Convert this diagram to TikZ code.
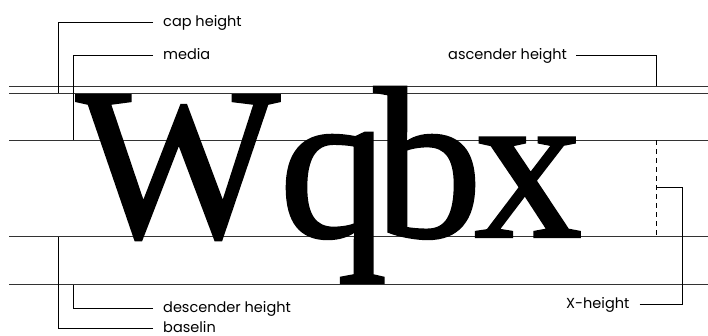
\documentclass[tikz,border=0pt]{standalone}
\usepackage{fontspec}
\setmainfont{Liberation Serif}
\newfontfamily\labelfont{Poppins}
\newfontfamily\glyphfont[FakeBold=1.2]{Liberation Serif}
\usetikzlibrary{positioning}

\begin{document}
\begin{tikzpicture}[
  x=1pt,y=-1pt,
  guide/.style={draw=black!80,line width=1.1pt},
  leader/.style={draw=black,line width=0.9pt},
  lbl/.style={font=\labelfont\fontsize{14.5}{16}\selectfont,inner sep=0pt,anchor=base west},
  glyph/.style={font=\glyphfont\fontsize{216}{216}\selectfont,inner sep=0pt,anchor=base west}
]
\useasboundingbox (0,0) rectangle (708,336);
% guide lines
\coordinate (asc-l) at (9,86.5);   \coordinate (asc-r) at (708,86.5);
\coordinate (cap-l) at (9,93.3);   \coordinate (cap-r) at (708,93.3);
\coordinate (med-l) at (9,140.5);  \coordinate (med-r) at (708,140.5);
\coordinate (base-l) at (9,236.8); \coordinate (base-r) at (708,236.8);
\coordinate (desc-l) at (9,284.5); \coordinate (desc-r) at (708,284.5);
\draw[guide] (asc-l) -- (asc-r);
\draw[guide] (cap-l) -- (cap-r);
\draw[guide] (med-l) -- (med-r);
\draw[guide] (base-l) -- (base-r);
\draw[guide] (desc-l) -- (desc-r);
% letters
\node[glyph] (W) at (76,236.8) {W};
\node[glyph] (q) at (279,236.8) {q};
\node[glyph] (b) at (374,236.8) {b};
\node[glyph] (x) at (474,236.8) {x};
% labels
\node[lbl] (caplbl) at (163,27) {cap height};
\node[lbl] (medlbl) at (163,59.5) {media};
\node[lbl] (asclbl) at (448,60) {ascender height};
\node[lbl] (xlbl) at (566,308.5) {X-height};
\node[lbl] (desclbl) at (163,312.3) {descender height};
\node[lbl] (baselbl) at (163,332) {baselin};
% leaders
\coordinate (cap-pt) at (58,93.3);
\coordinate (med-pt) at (73,140.5);
\coordinate (asc-pt) at (656,86.5);
\coordinate (desc-pt) at (73,284.5);
\coordinate (base-pt) at (58,236.8);
\coordinate (x-bend) at (682.5,187);
\coordinate (x-pt) at (656,187);
\coordinate (x-top) at (656,140.5);
\coordinate (x-bot) at (656,236.8);
\draw[leader] ([shift={(-10pt,4.2pt)}]caplbl.base west) -| (cap-pt);
\draw[leader] ([shift={(-10pt,4.2pt)}]medlbl.base west) -| (med-pt);
\draw[leader] ([shift={(-10pt,4.2pt)}]desclbl.base west) -| (desc-pt);
\draw[leader] ([shift={(-10pt,3.5pt)}]baselbl.base west) -| (base-pt);
\draw[leader] ([shift={(9pt,4.2pt)}]asclbl.base east) -| (asc-pt);
\draw[leader] ([shift={(10pt,4.2pt)}]xlbl.base east) -| (x-bend) -- (x-pt);
\draw[leader,dash pattern=on 5pt off 4pt] (x-top) -- (x-bot);
\end{tikzpicture}
\end{document}
